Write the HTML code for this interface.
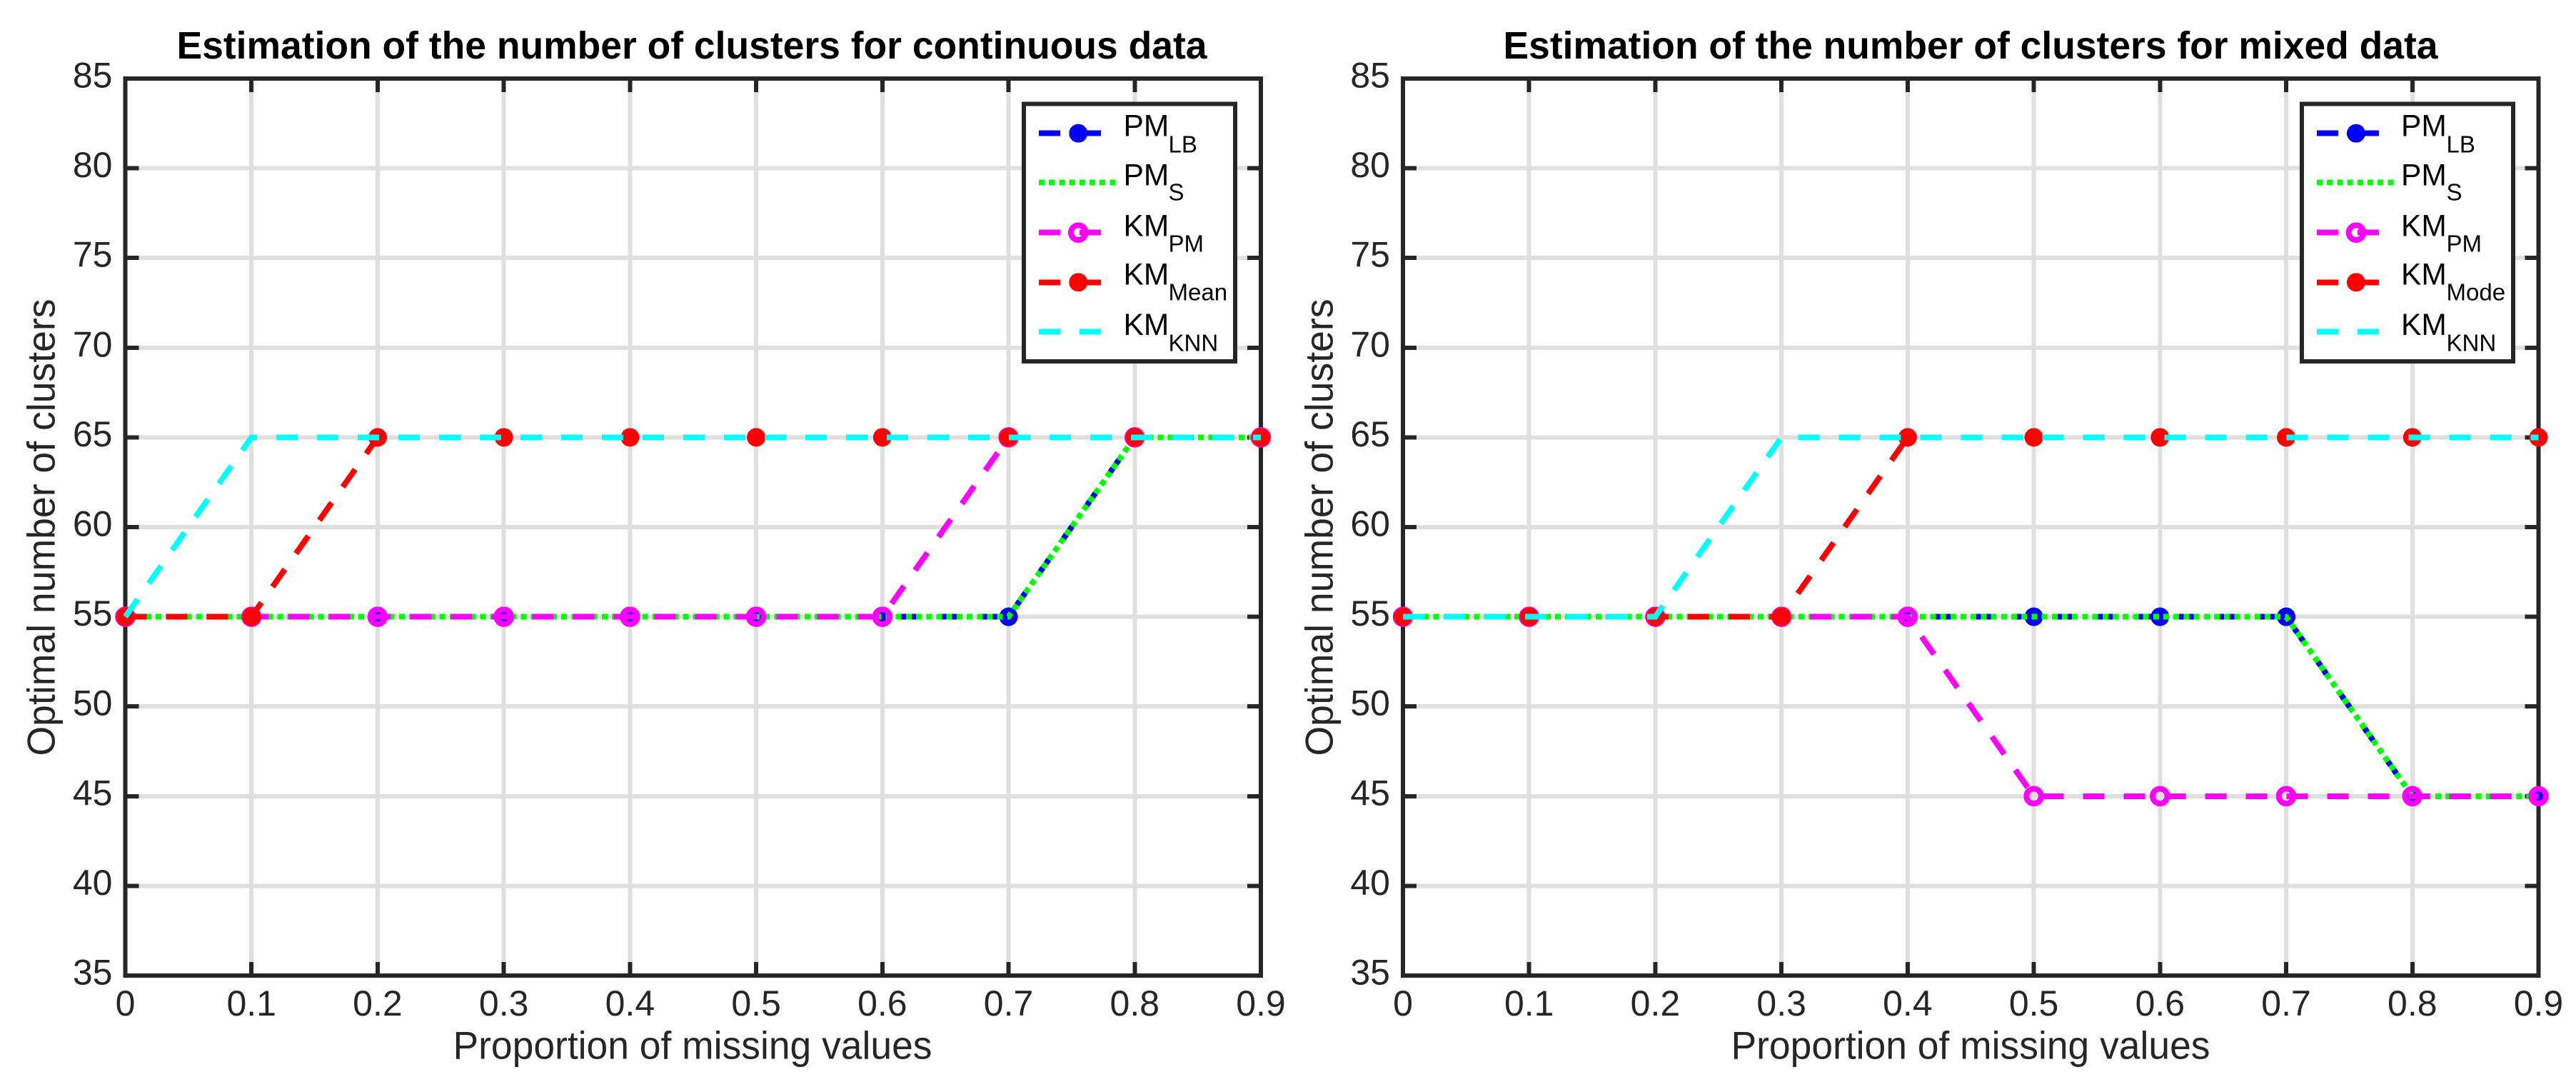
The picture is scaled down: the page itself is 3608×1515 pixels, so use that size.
<!DOCTYPE html>
<html lang="en">
<head>
<meta charset="utf-8">
<title>Estimation of the number of clusters</title>
<style>
html,body{margin:0;padding:0;background:#fff;}
body{width:3608px;height:1515px;overflow:hidden;}
svg{display:block;}
text{font-family:"Liberation Sans",Arial,sans-serif;}
.tick-label{font-size:50px;fill:#262626;}
.axis-title{font-size:55px;fill:#262626;}
.chart-title{font-size:54px;font-weight:bold;fill:#000;}
.leg-main{font-size:42.5px;fill:#000;}
.leg-sub{font-size:33px;fill:#000;}
.crisp line,.crisp rect,.crisp circle,.crisp polyline{shape-rendering:crispEdges;}
</style>
</head>
<body>
<svg id="figure" class="crisp" xmlns="http://www.w3.org/2000/svg" width="3608" height="1515" viewBox="0 0 3608 1515">
  <rect x="0" y="0" width="3608" height="1515" fill="#fff"/>

  <g id="panel-continuous">
    <g id="plot-continuous"></g>
    <text class="chart-title" x="247.5" y="82" textLength="1443" lengthAdjust="spacingAndGlyphs">Estimation of the number of clusters for continuous data</text>
    <text class="axis-title" x="634.5" y="1482.5" textLength="671" lengthAdjust="spacingAndGlyphs">Proportion of missing values</text>
    <text class="axis-title" transform="translate(76.5 1058.5) rotate(-90)" x="0" y="0" textLength="640" lengthAdjust="spacingAndGlyphs">Optimal number of clusters</text>

    <g>
      <rect x="1434" y="145.5" width="296" height="360.5" fill="#fff" stroke="#262626" stroke-width="6"/>
      <g>
        <line x1="1455" y1="186.7" x2="1563" y2="186.7" stroke="#0000ff" stroke-width="8" stroke-dasharray="30 27"/>
        <circle cx="1510.3" cy="186.7" r="13" fill="#0000ff"/>
        <text class="leg-main" x="1573.5" y="190.7">PM</text>
        <text class="leg-sub" x="1636.5" y="213.5">LB</text>
      </g>
      <g>
        <line x1="1455" y1="255.7" x2="1563" y2="255.7" stroke="#00ff00" stroke-width="8" stroke-dasharray="8 6.2"/>
        <text class="leg-main" x="1573.5" y="259.3">PM</text>
        <text class="leg-sub" x="1636.5" y="280.3">S</text>
      </g>
      <g>
        <line x1="1455" y1="325.7" x2="1563" y2="325.7" stroke="#ff00ff" stroke-width="8" stroke-dasharray="30 27"/>
        <circle cx="1510.3" cy="325.7" r="10.3" fill="none" stroke="#ff00ff" stroke-width="8"/>
        <text class="leg-main" x="1573.5" y="330.7">KM</text>
        <text class="leg-sub" x="1636.5" y="352.3">PM</text>
      </g>
      <g>
        <line x1="1455" y1="395.3" x2="1563" y2="395.3" stroke="#ff0000" stroke-width="8" stroke-dasharray="30 27"/>
        <circle cx="1510.3" cy="395.3" r="13" fill="#ff0000"/>
        <text class="leg-main" x="1573.5" y="398.7">KM</text>
        <text class="leg-sub" x="1636.5" y="420.7">Mean</text>
      </g>
      <g>
        <line x1="1455" y1="464.7" x2="1563" y2="464.7" stroke="#00ffff" stroke-width="8" stroke-dasharray="30 27"/>
        <text class="leg-main" x="1573.5" y="469">KM</text>
        <text class="leg-sub" x="1636.5" y="491.7">KNN</text>
      </g>
    </g>
  </g>

  <g id="panel-mixed">
    <g id="plot-mixed"></g>
    <text class="chart-title" x="2105.5" y="82" textLength="1309" lengthAdjust="spacingAndGlyphs">Estimation of the number of clusters for mixed data</text>
    <text class="axis-title" x="2424.5" y="1482.5" textLength="671" lengthAdjust="spacingAndGlyphs">Proportion of missing values</text>
    <text class="axis-title" transform="translate(1866.5 1058.5) rotate(-90)" x="0" y="0" textLength="640" lengthAdjust="spacingAndGlyphs">Optimal number of clusters</text>

    <g>
      <rect x="3224" y="145.5" width="296" height="360.5" fill="#fff" stroke="#262626" stroke-width="6"/>
      <g>
        <line x1="3245" y1="186.7" x2="3353" y2="186.7" stroke="#0000ff" stroke-width="8" stroke-dasharray="30 27"/>
        <circle cx="3300" cy="186.7" r="13" fill="#0000ff"/>
        <text class="leg-main" x="3363" y="190.7">PM</text>
        <text class="leg-sub" x="3426.5" y="213.5">LB</text>
      </g>
      <g>
        <line x1="3245" y1="255.7" x2="3353" y2="255.7" stroke="#00ff00" stroke-width="8" stroke-dasharray="8 6.2"/>
        <text class="leg-main" x="3363" y="259.3">PM</text>
        <text class="leg-sub" x="3426.5" y="280.3">S</text>
      </g>
      <g>
        <line x1="3245" y1="325.7" x2="3353" y2="325.7" stroke="#ff00ff" stroke-width="8" stroke-dasharray="30 27"/>
        <circle cx="3300" cy="325.7" r="10.3" fill="none" stroke="#ff00ff" stroke-width="8"/>
        <text class="leg-main" x="3363" y="330.7">KM</text>
        <text class="leg-sub" x="3426.5" y="352.3">PM</text>
      </g>
      <g>
        <line x1="3245" y1="395.3" x2="3353" y2="395.3" stroke="#ff0000" stroke-width="8" stroke-dasharray="30 27"/>
        <circle cx="3300" cy="395.3" r="13" fill="#ff0000"/>
        <text class="leg-main" x="3363" y="398.7">KM</text>
        <text class="leg-sub" x="3426.5" y="420.7">Mode</text>
      </g>
      <g>
        <line x1="3245" y1="464.7" x2="3353" y2="464.7" stroke="#00ffff" stroke-width="8" stroke-dasharray="30 27"/>
        <text class="leg-main" x="3363" y="469">KM</text>
        <text class="leg-sub" x="3426.5" y="491.7">KNN</text>
      </g>
    </g>
  </g>
</svg>

<script>
// ---- data ----
const proportions = [0, 0.1, 0.2, 0.3, 0.4, 0.5, 0.6, 0.7, 0.8, 0.9];
const xTickLabels = ['0', '0.1', '0.2', '0.3', '0.4', '0.5', '0.6', '0.7', '0.8', '0.9'];
const yTickValues = [35, 40, 45, 50, 55, 60, 65, 70, 75, 80, 85];

const continuousPmLb   = [55, 55, 55, 55, 55, 55, 55, 55, 65, 65];
const continuousPmS    = [55, 55, 55, 55, 55, 55, 55, 55, 65, 65];
const continuousKmPm   = [55, 55, 55, 55, 55, 55, 55, 65, 65, 65];
const continuousKmMean = [55, 55, 65, 65, 65, 65, 65, 65, 65, 65];
const continuousKmKnn  = [55, 65, 65, 65, 65, 65, 65, 65, 65, 65];

const mixedPmLb   = [55, 55, 55, 55, 55, 55, 55, 55, 45, 45];
const mixedPmS    = [55, 55, 55, 55, 55, 55, 55, 55, 45, 45];
const mixedKmPm   = [55, 55, 55, 55, 55, 45, 45, 45, 45, 45];
const mixedKmMode = [55, 55, 55, 55, 65, 65, 65, 65, 65, 65];
const mixedKmKnn  = [55, 55, 55, 65, 65, 65, 65, 65, 65, 65];

// ---- layout ----
const SVG_NS = 'http://www.w3.org/2000/svg';
const X_MIN = 0, X_MAX = 0.9, Y_MIN = 35, Y_MAX = 85;
const AXIS_COLOR = '#262626', GRID_COLOR = '#dfdfdf';
const AXIS_WIDTH = 6, GRID_WIDTH = 6, TICK_LEN = 19, SERIES_WIDTH = 8;
const DASHED = '30 27', DOTTED = '8 6.2';

function make(tag, attrs, parent) {
  const node = document.createElementNS(SVG_NS, tag);
  for (const key in attrs) node.setAttribute(key, attrs[key]);
  parent.appendChild(node);
  return node;
}

function drawAxes(parent, box, prefix) {
  const xScale = v => box.left + (v - X_MIN) / (X_MAX - X_MIN) * (box.right - box.left);
  const yScale = v => box.bottom - (v - Y_MIN) / (Y_MAX - Y_MIN) * (box.bottom - box.top);

  proportions.forEach((p, i) => {
    if (i > 0 && i < proportions.length - 1) {
      const grid = make('line', {x1: xScale(p), x2: xScale(p), y1: box.top, y2: box.bottom, stroke: GRID_COLOR, 'stroke-width': GRID_WIDTH}, parent);
      
      
    }
  });
  yTickValues.forEach((v, i) => {
    if (i > 0 && i < yTickValues.length - 1) {
      const grid = make('line', {x1: box.left, x2: box.right, y1: yScale(v), y2: yScale(v), stroke: GRID_COLOR, 'stroke-width': GRID_WIDTH}, parent);
      
      
    }
  });

  proportions.forEach((p, i) => {
    if (i > 0 && i < proportions.length - 1) {
      [[box.bottom, box.bottom - TICK_LEN], [box.top, box.top + TICK_LEN]].forEach(end => {
        const tick = make('line', {x1: xScale(p), x2: xScale(p), y1: end[0], y2: end[1], stroke: AXIS_COLOR, 'stroke-width': AXIS_WIDTH}, parent);
        
        
      });
    }
    const label = make('text', {x: xScale(p), y: 1422, 'text-anchor': 'middle', class: 'tick-label'}, parent);
    label.textContent = xTickLabels[i];
    
    
  });

  yTickValues.forEach((v, i) => {
    if (i > 0 && i < yTickValues.length - 1) {
      [[box.left, box.left + TICK_LEN], [box.right, box.right - TICK_LEN]].forEach(end => {
        const tick = make('line', {x1: end[0], x2: end[1], y1: yScale(v), y2: yScale(v), stroke: AXIS_COLOR, 'stroke-width': AXIS_WIDTH}, parent);
        
        
      });
    }
    const label = make('text', {x: box.left - 18, y: yScale(v) + 12.5, 'text-anchor': 'end', class: 'tick-label'}, parent);
    label.textContent = String(v);
    
    
  });

  const frame = make('rect', {x: box.left, y: box.top, width: box.right - box.left, height: box.bottom - box.top, fill: 'none', stroke: AXIS_COLOR, 'stroke-width': AXIS_WIDTH}, parent);
  
  

  return {xScale, yScale};
}

function drawSeries(parent, scales, values, style, name) {
  const group = make('g', {}, parent);
  
  

  const points = values.map((v, i) => scales.xScale(proportions[i]) + ',' + scales.yScale(v)).join(' ');
  const path = make('polyline', {points: points, fill: 'none', stroke: style.color, 'stroke-width': SERIES_WIDTH, 'stroke-dasharray': style.dash, 'stroke-linecap': 'butt', 'stroke-linejoin': 'miter'}, group);
  
  

  if (style.marker === 'filled' || style.marker === 'hollow') {
    values.forEach((v, i) => {
      const attrs = style.marker === 'filled'
        ? {cx: scales.xScale(proportions[i]), cy: scales.yScale(v), r: 13, fill: style.color}
        : {cx: scales.xScale(proportions[i]), cy: scales.yScale(v), r: 10.3, fill: 'none', stroke: style.color, 'stroke-width': 8};
      const dot = make('circle', attrs, group);
      
      
    });
  }
}

// ---- render ----
const plotContinuous = document.getElementById('plot-continuous');
const plotMixed = document.getElementById('plot-mixed');

const scalesContinuous = drawAxes(plotContinuous, {left: 175.5, right: 1766, top: 110, bottom: 1366}, 'continuous');
drawSeries(plotContinuous, scalesContinuous, continuousPmLb,   {color: '#0000ff', dash: DASHED, marker: 'filled'}, 'continuous-series-pm-lb');
drawSeries(plotContinuous, scalesContinuous, continuousPmS,    {color: '#00ff00', dash: DOTTED, marker: 'none'},   'continuous-series-pm-s');
drawSeries(plotContinuous, scalesContinuous, continuousKmPm,   {color: '#ff00ff', dash: DASHED, marker: 'hollow'}, 'continuous-series-km-pm');
drawSeries(plotContinuous, scalesContinuous, continuousKmMean, {color: '#ff0000', dash: DASHED, marker: 'filled'}, 'continuous-series-km-mean');
drawSeries(plotContinuous, scalesContinuous, continuousKmKnn,  {color: '#00ffff', dash: DASHED, marker: 'none'},   'continuous-series-km-knn');

const scalesMixed = drawAxes(plotMixed, {left: 1965, right: 3555.5, top: 110, bottom: 1366}, 'mixed');
drawSeries(plotMixed, scalesMixed, mixedPmLb,   {color: '#0000ff', dash: DASHED, marker: 'filled'}, 'mixed-series-pm-lb');
drawSeries(plotMixed, scalesMixed, mixedPmS,    {color: '#00ff00', dash: DOTTED, marker: 'none'},   'mixed-series-pm-s');
drawSeries(plotMixed, scalesMixed, mixedKmPm,   {color: '#ff00ff', dash: DASHED, marker: 'hollow'}, 'mixed-series-km-pm');
drawSeries(plotMixed, scalesMixed, mixedKmMode, {color: '#ff0000', dash: DASHED, marker: 'filled'}, 'mixed-series-km-mode');
drawSeries(plotMixed, scalesMixed, mixedKmKnn,  {color: '#00ffff', dash: DASHED, marker: 'none'},   'mixed-series-km-knn');
</script>
</body>
</html>
